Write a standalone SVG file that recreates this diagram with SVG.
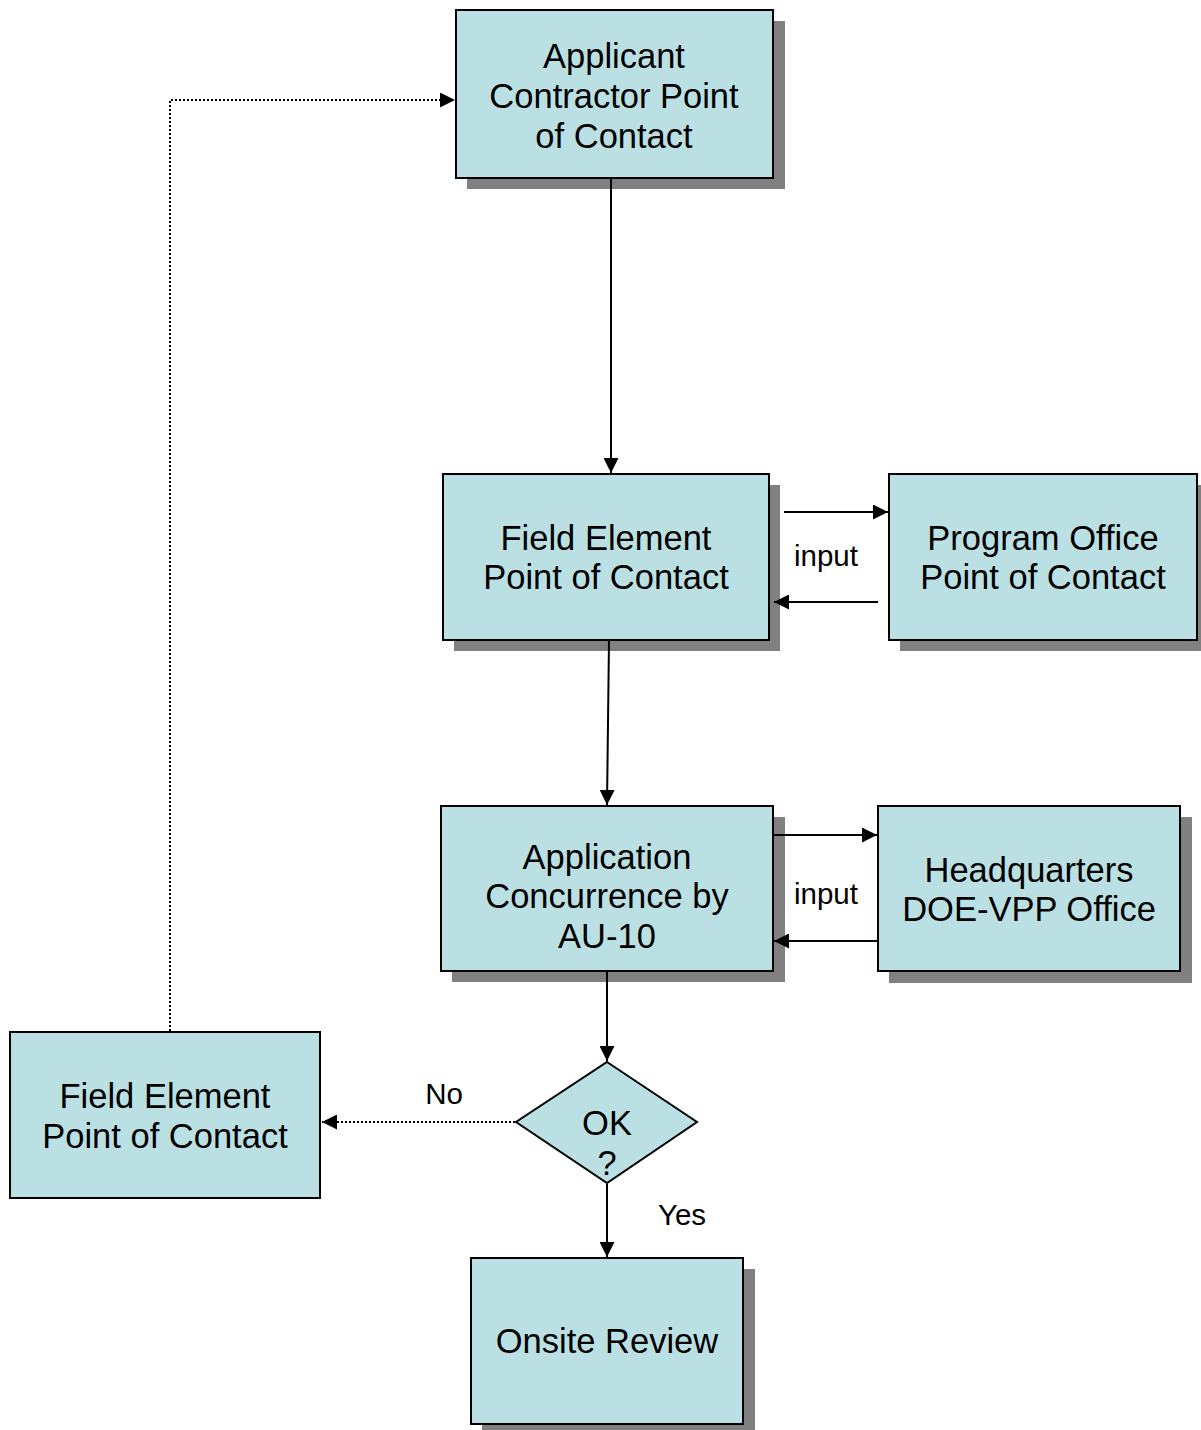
<svg xmlns="http://www.w3.org/2000/svg" width="1201" height="1430" viewBox="0 0 1201 1430">
<style>
.box{fill:#BBE0E3;stroke:#000;stroke-width:2}
.sh{fill:#808080}
.t{font-family:"Liberation Sans",Arial,sans-serif;font-size:34.5px;fill:#000;text-anchor:middle}
.l{font-family:"Liberation Sans",Arial,sans-serif;font-size:29.5px;fill:#000;text-anchor:middle}
.c{stroke:#000;stroke-width:2;fill:none}
.d{stroke:#000;stroke-width:2;fill:none;stroke-dasharray:2 2}
</style>
<defs>
<marker id="a" viewBox="0 0 10 10" refX="10" refY="5" markerWidth="15" markerHeight="15" markerUnits="userSpaceOnUse" orient="auto">
<path d="M0,0 L10,5 L0,10 Z" fill="#000"/>
</marker>
</defs>
<rect width="1201" height="1430" fill="#fff"/>
<g id="n1">
<rect class="sh" x="467" y="21" width="318" height="168"/>
<rect class="box" x="456" y="10" width="317" height="168"/>
<text class="t" x="614" y="68">Applicant</text>
<text class="t" x="614" y="108">Contractor Point</text>
<text class="t" x="614" y="148">of Contact</text>
</g>
<g id="n2">
<rect class="sh" x="454" y="485" width="326" height="166"/>
<rect class="box" x="443" y="474" width="326" height="166"/>
<text class="t" x="606" y="550">Field Element</text>
<text class="t" x="606" y="589">Point of Contact</text>
</g>
<g id="n3">
<rect class="sh" x="900" y="485" width="301" height="166"/>
<rect class="box" x="889" y="474" width="308" height="166"/>
<text class="t" x="1043" y="550">Program Office</text>
<text class="t" x="1043" y="589">Point of Contact</text>
</g>
<g id="n4">
<rect class="sh" x="452" y="817" width="333" height="165"/>
<rect class="box" x="441" y="806" width="332" height="165"/>
<text class="t" x="607" y="869">Application</text>
<text class="t" x="607" y="908">Concurrence by</text>
<text class="t" x="607" y="948">AU-10</text>
</g>
<g id="n5">
<rect class="sh" x="889" y="817" width="303" height="166"/>
<rect class="box" x="878" y="806" width="302" height="165"/>
<text class="t" x="1029" y="882">Headquarters</text>
<text class="t" x="1029" y="921">DOE-VPP Office</text>
</g>
<g id="n6">
<rect class="box" x="10" y="1032" width="310" height="166"/>
<text class="t" x="165" y="1108">Field Element</text>
<text class="t" x="165" y="1148">Point of Contact</text>
</g>
<g id="n7">
<polygon class="box" points="607,1062 697,1122 607,1183 516,1122"/>
<text class="t" x="607" y="1135">OK</text>
<text class="t" x="607" y="1175">?</text>
</g>
<g id="n8">
<rect class="sh" x="482" y="1269" width="273" height="161"/>
<rect class="box" x="471" y="1258" width="272" height="166"/>
<text class="t" x="607" y="1353">Onsite Review</text>
</g>
<g id="connectors">
<line class="c" x1="611" y1="179" x2="611" y2="473" marker-end="url(#a)"/>
<line class="c" x1="609" y1="641" x2="607" y2="805" marker-end="url(#a)"/>
<line class="c" x1="784" y1="512" x2="888" y2="512" marker-end="url(#a)"/>
<line class="c" x1="878" y1="602" x2="774" y2="602" marker-end="url(#a)"/>
<line class="c" x1="774" y1="835" x2="877" y2="835" marker-end="url(#a)"/>
<line class="c" x1="877" y1="941" x2="774" y2="941" marker-end="url(#a)"/>
<line class="c" x1="607" y1="972" x2="607" y2="1061" marker-end="url(#a)"/>
<line class="c" x1="607" y1="1184" x2="607" y2="1257" marker-end="url(#a)"/>
<line class="d" x1="515" y1="1122" x2="322" y2="1122" marker-end="url(#a)"/>
<polyline class="d" points="170,1031 170,100 455,100" marker-end="url(#a)"/>
<text class="l" x="826" y="566">input</text>
<text class="l" x="826" y="904">input</text>
<text class="l" x="444" y="1104">No</text>
<text class="l" x="682" y="1225">Yes</text>
</g>
</svg>
